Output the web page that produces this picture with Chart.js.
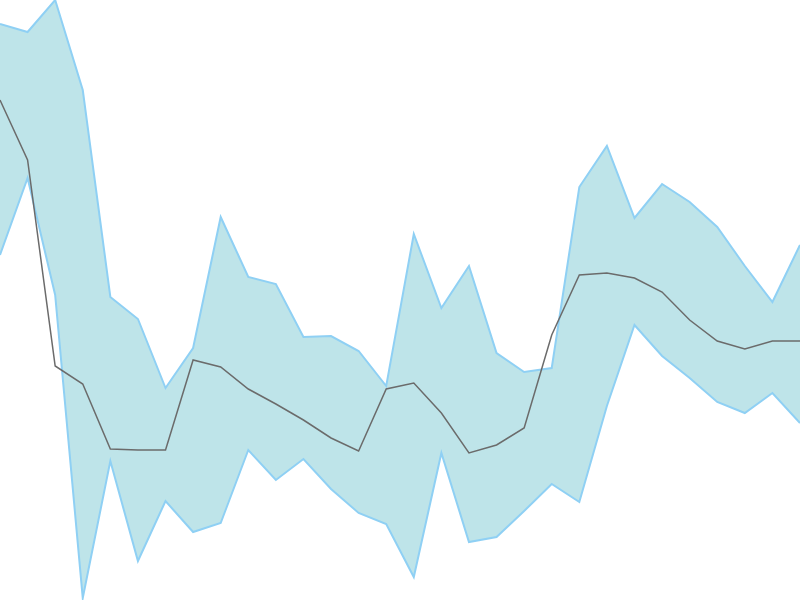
<!DOCTYPE html>
<html><head><meta charset="utf-8">
<script src="https://cdn.jsdelivr.net/npm/chart.js@4/dist/chart.umd.min.js"></script>
<style>html,body{margin:0;padding:0;background:#fff}#wrap{width:800px;height:600px}</style>
</head><body><div id="wrap"><canvas id="c" width="800" height="600"></canvas></div>
<script>
const labels = Array.from({length:30},(_,i)=>String(i));
// values = 600 - pixel y
const upper = [576,568,600,510,303,281,212,252,383,323,316,263,264,249,214,366,292,334,247,228,232,413,454,382,416,398,373,334,298,355];
const lower = [345,422,305,2,139,39,99,68,77,150,120,141,111,87,76,23,147,58,63,89,116,98,194,275,244,222,198,187,207,177];
const middle = [500,440,234,216,151,150,150,240,233,211,196,180,162,149,211,217,187,147,155,172,265,325,327,322,308,280,259,251,259,259];

new Chart(document.getElementById('c'), {
  type: 'line',
  data: {
    labels,
    datasets: [
      {data: upper, borderColor: '#8fd0f4', borderWidth: 2, backgroundColor: '#bee4e9', fill: '+1', pointRadius: 0, tension: 0, order: 2},
      {data: lower, borderColor: '#8fd0f4', borderWidth: 2, backgroundColor: '#bee4e9', fill: false, pointRadius: 0, tension: 0, order: 2},
      {data: middle, borderColor: '#6b6b6b', borderWidth: 1.5, fill: false, pointRadius: 0, tension: 0, order: 1}
    ]
  },
  options: {
    responsive: false, animation: false,
    layout: {padding: 0},
    plugins: {legend: {display: false}, tooltip: {enabled: false}, filler: {drawTime: 'beforeDatasetsDraw'}},
    scales: {
      x: {display: false, offset: false},
      y: {display: false, min: 0, max: 600}
    }
  }
});
</script></body></html>
